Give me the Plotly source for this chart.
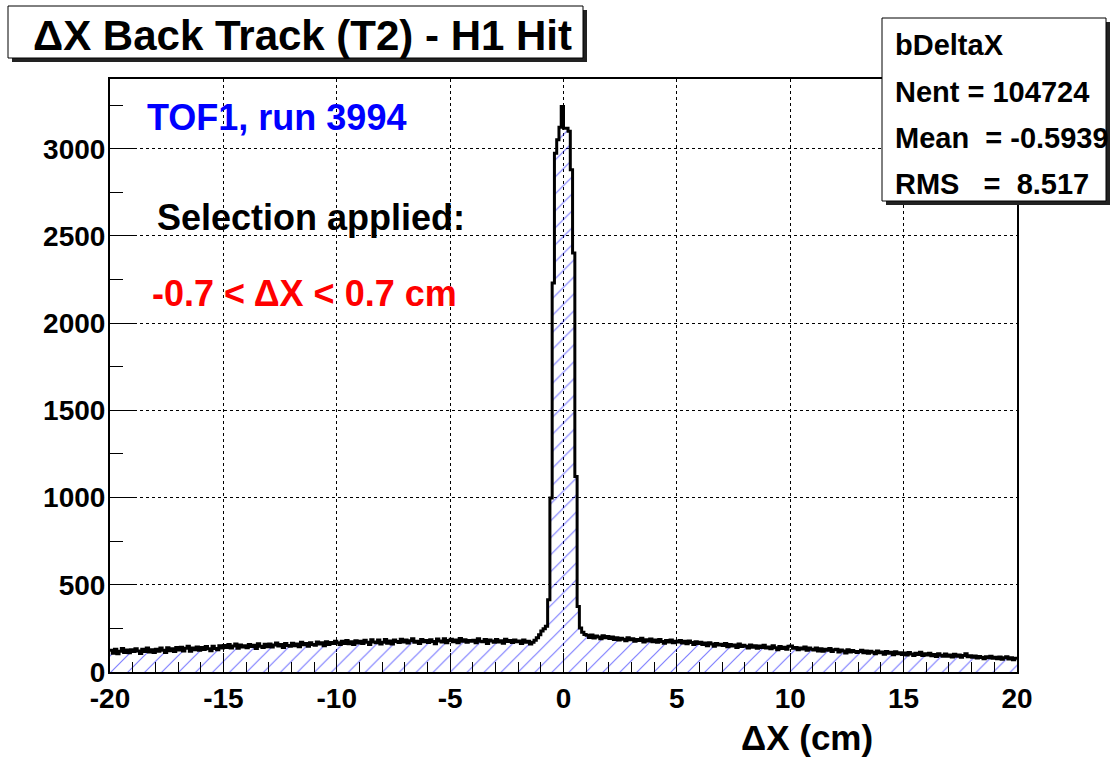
import plotly.graph_objects as go

# ---------------- data ----------------
x_min, x_max, bin_width = -20.0, 20.0, 0.1

counts = (
    [125,108,131,104,119,135,112,126,110,128] +   # -20..-19
    [117,133,121,106,130,118,137,115,128,112] +   # -19..-18
    [131,119,137,124,112,139,122,133,118,140] +   # -18..-17
    [126,142,121,136,147,119,138,128,143,124] +   # -17..-16
    [140,129,146,133,122,148,135,127,150,138] +   # -16..-15
    [152,141,157,138,149,160,136,155,144,150] +   # -15..-14
    [139,158,146,153,135,162,148,141,159,145] +   # -14..-13
    [160,143,155,166,149,158,140,163,152,147] +   # -13..-12
    [165,150,161,145,170,156,163,148,168,157] +   # -12..-11
    [154,172,160,167,151,174,158,169,163,177] +   # -11..-10
    [168,158,176,164,181,162,173,157,179,166] +   # -10..-9
    [176,163,182,170,158,185,172,167,183,161] +   # -9..-8
    [171,186,165,178,160,184,175,169,188,172] +   # -8..-7
    [183,166,179,190,170,176,164,187,174,181] +   # -7..-6
    [169,185,175,162,189,178,172,191,167,180] +   # -6..-5
    [188,174,183,168,192,177,185,170,181,176] +   # -5..-4
    [182,167,190,176,173,186,164,184,178,170] +   # -4..-3
    [186,172,179,165,188,175,181,169,184,174] +   # -3..-2
    [178,164,183,171,176,160,170,182,196,214] +   # -2..-1
    [235,248,262,414,997,2230,2975,3051,3124,3243] +  # -1..0
    [3118,3118,3100,2880,2402,1121,376,252,228,215] + # 0..1
    [210,198,212,195,206,200,190,208,196,203] +   # 1..2
    [192,201,186,197,183,194,188,179,196,185] +   # 2..3
    [190,176,187,181,193,172,185,178,189,174] +   # 3..4
    [183,170,186,175,165,181,172,184,168,177] +   # 4..5
    [172,181,166,176,162,178,169,158,174,163] +   # 5..6
    [170,157,166,151,168,160,148,163,155,159] +   # 6..7
    [152,163,145,158,149,155,141,160,146,153] +   # 7..8
    [147,138,155,142,150,136,149,140,153,137] +   # 8..9
    [144,133,150,139,128,146,135,142,131,148] +   # 9..10
    [149,136,141,127,138,132,143,124,137,130] +   # 10..11
    [126,137,121,133,119,130,124,135,117,128] +   # 11..12
    [131,115,126,120,109,128,114,123,118,112] +   # 12..13
    [118,125,110,121,107,119,113,104,120,111] +   # 13..14
    [115,102,118,108,113,99,116,105,110,101] +    # 14..15
    [109,97,112,103,95,108,100,113,94,104] +      # 15..16
    [98,107,93,101,89,105,96,91,103,90] +         # 16..17
    [97,86,102,91,98,84,95,105,88,93] +           # 17..18
    [85,92,80,89,83,76,88,82,90,79] +             # 18..19
    [84,76,86,73,81,88,75,82,70,79]               # 19..20
)

x_ticks = [-20, -15, -10, -5, 0, 5, 10, 15, 20]
y_ticks = [0, 500, 1000, 1500, 2000, 2500, 3000]

title_text = "ΔX Back Track (T2) - H1 Hit"
stats_lines = ["bDeltaX", "Nent = 104724", "Mean  = -0.5939", "RMS   =  8.517"]
label_run = "TOF1, run 3994"
label_sel = "Selection applied:"
label_cut = "-0.7 < ΔX < 0.7 cm"
x_title = "ΔX (cm)"

# ---------------- figure ----------------
W, H = 1115, 758
L, R, T, B = 110, 98, 79, 86
PW, PH = W - L - R, H - T - B

def px(xp):
    return (xp - L) / PW

def py(yp):
    return (H - B - yp) / PH

edges = [x_min + i * bin_width for i in range(len(counts) + 1)]
ys = counts + [counts[-1]]

FONT = "Liberation Sans, Arial, Helvetica, sans-serif"

fig = go.Figure()
fig.add_trace(go.Scatter(
    x=edges, y=ys, mode="lines", line_shape="hv",
    line=dict(color="black", width=3),
    fill="tozeroy", fillcolor="rgba(0,0,0,0)",
    fillpattern=dict(shape="/", fgcolor="#0000ff", bgcolor="rgba(0,0,0,0)",
                     size=12, solidity=0.1),
    hoverinfo="skip", showlegend=False,
))

fig.update_layout(
    width=W, height=H,
    margin=dict(l=L, r=R, t=T, b=B, pad=0),
    paper_bgcolor="white", plot_bgcolor="white",
    font=dict(family=FONT, color="black"),
    showlegend=False,
)

fig.update_xaxes(
    range=[x_min, x_max], tickmode="array", tickvals=x_ticks,
    ticktext=[str(v) for v in x_ticks],
    ticks="inside", ticklen=19, tickwidth=1, tickcolor="black",
    minor=dict(dtick=1, tick0=0, ticks="inside", ticklen=10, tickcolor="black", tickwidth=1, showgrid=False),
    showgrid=True, gridcolor="black", griddash="dot", gridwidth=1,
    showline=True, linecolor="black", linewidth=2, mirror=True,
    zeroline=False,
    tickfont=dict(family=FONT, size=28, color="black", weight="bold"),
)
fig.update_yaxes(
    range=[0, 3400], tickmode="array", tickvals=y_ticks,
    ticktext=[str(v) for v in y_ticks],
    ticks="inside", ticklen=26, tickwidth=1, tickcolor="black",
    minor=dict(dtick=250, tick0=0, ticks="inside", ticklen=13, tickcolor="black", tickwidth=1, showgrid=False),
    showgrid=True, gridcolor="black", griddash="dot", gridwidth=1,
    showline=True, linecolor="black", linewidth=2, mirror=True,
    zeroline=False, ticklabelstandoff=-3,
    tickfont=dict(family=FONT, size=28, color="black", weight="bold"),
)

shapes = []
def box(x0, y0, x1, y1, sh=4):
    shapes.append(dict(type="rect", xref="paper", yref="paper",
                       x0=px(x0 + sh), x1=px(x1 + sh), y0=py(y1 + sh), y1=py(y0 + sh),
                       fillcolor="#222222", line=dict(width=0), layer="above"))
    shapes.append(dict(type="rect", xref="paper", yref="paper",
                       x0=px(x0), x1=px(x1), y0=py(y1), y1=py(y0),
                       fillcolor="white", line=dict(color="black", width=1), layer="above"))

box(8, 6, 583, 58)
box(882, 18, 1106, 201)
fig.update_layout(shapes=shapes)

ann = []
def text(s, xp, yp, size, color="black", anchor="left"):
    ann.append(dict(text="<b>" + s + "</b>", x=px(xp), y=py(yp), xref="paper", yref="paper",
                    xanchor=anchor, yanchor="middle", showarrow=False,
                    font=dict(family=FONT, size=size, color=color)))

text(title_text, 302, 36, 42, anchor="center")
for i, s in enumerate(stats_lines):
    text(s.replace(" ", "&nbsp;"), 893, [45, 92, 138, 184][i], 29)
text(label_run, 145, 118, 36, color="#0000ff")
text(label_sel, 155, 217, 36)
text(label_cut, 150, 293, 36, color="#ff0000")
text(x_title, 875, 737, 35, anchor="right")
fig.update_layout(annotations=ann)

fig.write_html("out.html", config={"displayModeBar": False},
               post_script=["document.body.style.margin='0';document.body.style.overflow='hidden';"])
